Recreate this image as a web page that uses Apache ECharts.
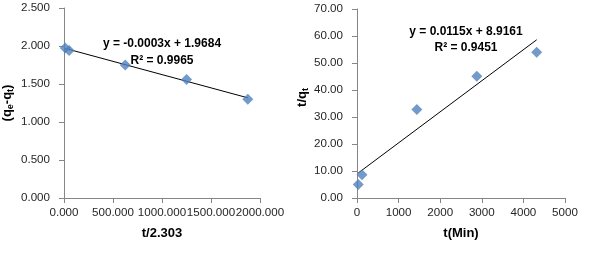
<!DOCTYPE html>
<html>
<head>
<meta charset="utf-8">
<script src="https://cdn.jsdelivr.net/npm/echarts@6/dist/echarts.min.js"></script>
<style>
  html, body { margin: 0; padding: 0; background: #fff; }
  #chart { width: 600px; height: 268px; }
</style>
</head>
<body>
<div id="chart"></div>
<script>
// left panel: pseudo first order, x = t/2.303
var leftX = [13.03, 52.1, 625.3, 1250.5, 1875.8];
var leftY = [1.975, 1.94, 1.75, 1.56, 1.30];
var leftTrend = [[13.03, 1.968], [1875.8, 1.318]];
var leftEq = ['y = -0.0003x + 1.9684', 'R² = 0.9965'];

// right panel: pseudo second order, t/qt vs t
var rightX = [30, 120, 1440, 2880, 4320];
var rightY = [5.0, 8.6, 32.8, 45.1, 54.0];
var rightTrend = [[30, 9.26], [4320, 58.6]];
var rightEq = ['y = 0.0115x + 8.9161', 'R² = 0.9451'];

var font = "'Liberation Sans', Arial, sans-serif";
var axisGray = '#868686';
var blue = '#4F81BD';

function pairs(xs, ys) {
    return xs.map(function (x, i) { return [x, ys[i]]; });
}

function valueAxis(idx, min, max, interval, digits, name, gap, margin, rich, pad) {
    return {
        type: 'value',
        gridIndex: idx,
        min: min, max: max, interval: interval,
        name: name,
        nameLocation: 'middle',
        nameGap: gap,
        nameTextStyle: {
            fontFamily: font, fontWeight: 'bold', fontSize: 13, color: '#000',
            padding: pad || 0,
            rich: rich || {}
        },
        axisLine: { show: true, lineStyle: { color: axisGray, width: 1 } },
        axisTick: { show: true, length: 5, lineStyle: { color: axisGray } },
        splitLine: { show: false },
        axisLabel: {
            fontFamily: font, fontSize: 11.6, color: '#262626', margin: margin,
            showMinLabel: true, showMaxLabel: true, hideOverlap: false,
            formatter: function (v) { return v.toFixed(digits); }
        }
    };
}

var subRich = {
    b: { fontFamily: font, fontWeight: 'bold', fontSize: 13, color: '#000' },
    s: { fontFamily: font, fontWeight: 'bold', fontSize: 9, color: '#000', verticalAlign: 'bottom', padding: [6, 0, 0, 0] }
};

var myChart = echarts.init(document.getElementById('chart'));
var options = {
    animation: false,
    backgroundColor: '#fff',
    grid: [
        { left: 64, top: 8, width: 196, height: 190 },
        { left: 357, top: 9, width: 208, height: 189 }
    ],
    xAxis: [
        valueAxis(0, 0, 2000, 500, 3, 't/2.303', 29, 9),
        valueAxis(1, 0, 5000, 1000, 0, 't(Min)', 29, 9)
    ],
    yAxis: [
        valueAxis(0, 0, 2.5, 0.5, 3, '{b|(q}{s|e}{b|-q}{s|t}{b|)}', 49, 14, subRich),
        valueAxis(1, 0, 70, 10, 2, '{b|t/q}{s|t}', 41, 14, subRich, [0, 0, 0, 12])
    ],
    series: [
        {
            type: 'line', xAxisIndex: 0, yAxisIndex: 0,
            data: leftTrend, showSymbol: false, symbol: 'none',
            lineStyle: { color: '#000', width: 1 }, z: 2
        },
        {
            type: 'scatter', xAxisIndex: 0, yAxisIndex: 0,
            data: pairs(leftX, leftY), symbol: 'diamond', symbolSize: 11,
            itemStyle: { color: blue }, z: 3
        },
        {
            type: 'line', xAxisIndex: 1, yAxisIndex: 1,
            data: rightTrend, showSymbol: false, symbol: 'none',
            lineStyle: { color: '#000', width: 1 }, z: 2
        },
        {
            type: 'scatter', xAxisIndex: 1, yAxisIndex: 1,
            data: pairs(rightX, rightY), symbol: 'diamond', symbolSize: 11,
            itemStyle: { color: blue }, z: 3
        }
    ],
    graphic: [
        { type: 'text', x: 162, y: 44, style: { text: leftEq[0], font: 'bold 12px ' + font, fill: '#000', align: 'center', verticalAlign: 'middle' }, z: 10 },
        { type: 'text', x: 162, y: 61, style: { text: leftEq[1], font: 'bold 12px ' + font, fill: '#000', align: 'center', verticalAlign: 'middle' }, z: 10 },
        { type: 'text', x: 466, y: 32, style: { text: rightEq[0], font: 'bold 12px ' + font, fill: '#000', align: 'center', verticalAlign: 'middle' }, z: 10 },
        { type: 'text', x: 466, y: 48, style: { text: rightEq[1], font: 'bold 12px ' + font, fill: '#000', align: 'center', verticalAlign: 'middle' }, z: 10 }
    ]
};
myChart.setOption(options);
window.addEventListener('resize', myChart.resize);
</script>
</body>
</html>
